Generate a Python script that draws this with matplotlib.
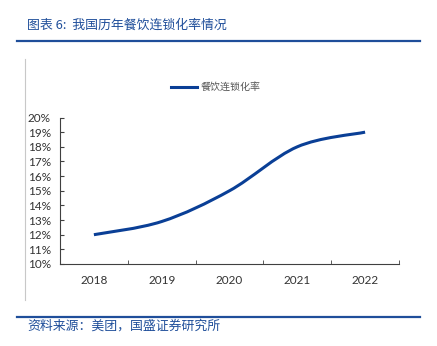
import numpy as np
import matplotlib.pyplot as plt
from matplotlib.path import Path
from matplotlib.patches import PathPatch
from matplotlib.lines import Line2D

plt.rcParams['font.family'] = ['Noto Sans CJK SC', 'DejaVu Sans']

# data
years = ['2018', '2019', '2020', '2021', '2022']
rate = [12.0, 12.9, 15.0, 18.0, 19.0]
yticks = list(range(10, 21))
title = '图表 6:  我国历年餐饮连锁化率情况'
source = '资料来源：美团，国盛证券研究所'
series_name = '餐饮连锁化率'

line_color = '#0a3f96'
text_blue = '#1f4e9a'

fig = plt.figure(figsize=(4.37, 3.46), dpi=100)
W, H = 437, 346

# header / footer
fig.text(27 / W, 1 - 25 / H, title, color=text_blue, fontsize=9.3,
         va='center', ha='left', style='italic')
fig.add_artist(Line2D([17 / W, 420 / W], [1 - 41 / H, 1 - 41 / H],
                      color=text_blue, lw=1.6))
fig.add_artist(Line2D([17 / W, 420 / W], [1 - 316.5 / H, 1 - 316.5 / H],
                      color=text_blue, lw=1.6))
fig.text(27 / W, 1 - 326 / H, source, color=text_blue, fontsize=9.3,
         va='center', ha='left', style='italic')
fig.add_artist(Line2D([25 / W, 25 / W], [1 - 59 / H, 1 - 300 / H],
                      color='#c8c8c8', lw=0.8))

# axes
left, right, top, bottom = 60, 399, 117.5, 264
ax = fig.add_axes([left / W, 1 - bottom / H, (right - left) / W, (bottom - top) / H])
x = np.arange(len(years))

# smooth curve through points (Catmull-Rom as cubic Bezier segments)
pts = np.column_stack([x, rate]).astype(float)
verts = [tuple(pts[0])]
codes = [Path.MOVETO]
for i in range(len(pts) - 1):
    p0 = pts[i - 1] if i > 0 else pts[i]
    p1 = pts[i]
    p2 = pts[i + 1]
    p3 = pts[i + 2] if i + 2 < len(pts) else pts[i + 1]
    c1 = p1 + (p2 - p0) / 6
    c2 = p2 - (p3 - p1) / 6
    verts += [tuple(c1), tuple(c2), tuple(p2)]
    codes += [Path.CURVE4] * 3
ax.add_patch(PathPatch(Path(verts, codes), facecolor='none',
                       edgecolor=line_color, lw=2.2, capstyle='butt'))

ax.set_xlim(-0.5, len(years) - 0.5)
ax.set_ylim(10, 20)
ax.set_yticks(yticks)
ax.set_yticklabels([f'{v}%' for v in yticks])
ax.set_xticks(x)
ax.set_xticklabels(years)
ax.set_xticks(np.arange(-0.5, len(years)), minor=True)
ax.tick_params(axis='x', which='major', length=0, pad=8)
ax.tick_params(axis='x', which='minor', length=3, direction='in', color='#404040')
ax.tick_params(axis='y', length=3, direction='in', color='#404040', pad=6.5)
ax.tick_params(labelsize=8.5, labelcolor='#333333')
for lab in ax.get_xticklabels() + ax.get_yticklabels():
    lab.set_family(['Lato', 'DejaVu Sans'])
for s in ['top', 'right']:
    ax.spines[s].set_visible(False)
for s in ['left', 'bottom']:
    ax.spines[s].set_color('#404040')
    ax.spines[s].set_linewidth(0.8)

# legend
handle = Line2D([], [], color=line_color, lw=2.2)
fig.legend([handle], [series_name], loc='center', bbox_to_anchor=(216 / W, 1 - 87 / H),
           frameon=False, fontsize=7.2, labelcolor='#555555', handlelength=2.6,
           handletextpad=0.4)

fig.savefig('out.png', dpi=100)
